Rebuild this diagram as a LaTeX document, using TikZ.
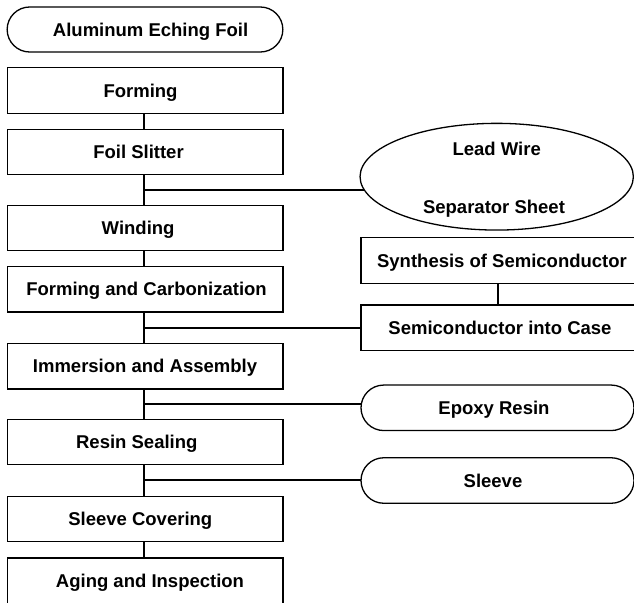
\documentclass[tikz,border=0pt]{standalone}
\usepackage{fontspec}
\setmainfont{Liberation Sans}
\usetikzlibrary{shapes.misc,shapes.geometric,backgrounds}
\begin{document}
\begin{tikzpicture}[x=1pt,y=-1pt,
  every node/.style={font=\fontsize{18.5}{22}\selectfont\bfseries,
    text height=13.2pt, text depth=0pt, inner sep=0pt},
  % tx shifts the text sideways inside its frame
  tx/.style={execute at begin node={\hspace*{#1}}},
  stage/.style={draw, fill=white, line width=1.3pt, rectangle,
    minimum width=275.7pt, minimum height=45.5pt},
  supply/.style={draw, fill=white, line width=1.3pt, rounded rectangle,
    minimum width=273pt, minimum height=45.5pt},
  material/.style={draw, fill=white, line width=1.3pt, ellipse,
    minimum width=273.3pt, minimum height=106.7pt},
  link/.style={line width=1.4pt}]
\useasboundingbox (0,0) rectangle (634,602);
\clip (0,0) rectangle (634,602);

% main process column
\node[supply, minimum width=275.7pt, minimum height=45pt, tx=11.2pt] (foil) at (145,29.5) {Aluminum Eching Foil};
\node[stage, tx=-9pt]  (form)  at (145,90.5)  {Forming};
\node[stage, tx=-13pt] (slit)  at (145,152)   {Foil Slitter};
\node[stage, tx=-13.8pt] (wind) at (145,228)  {Winding};
\node[stage, tx=3pt]   (carb)  at (145,289.2) {Forming and Carbonization};
\node[stage]           (imm)   at (145,366.2) {Immersion and Assembly};
\node[stage, tx=-16.4pt] (seal) at (145,442)  {Resin Sealing};
\node[stage, tx=-9.4pt] (cover) at (145,519)  {Sleeve Covering};
\node[stage, tx=10pt]  (aging) at (145,580.6) {Aging and Inspection};

% side inputs
\node[material] (lead) at (496.7,176.7) {};
\node at (496.7,148.7) {Lead Wire};
\node at (494,207.3) {Separator Sheet};
\node[stage, minimum width=276pt, tx=6pt] (synth) at (499,260.5) {Synthesis of Semiconductor};
\node[stage, minimum width=276pt, tx=2pt] (semi)  at (499,327.8) {Semiconductor into Case};
\node[supply, tx=-7pt] (epoxy)  at (497.5,407.8) {Epoxy Resin};
\node[supply, tx=-9pt] (sleeve) at (497.5,480.5) {Sleeve};

% junctions on the main line
\coordinate (j1) at (144,190);
\coordinate (j2) at (144,328);
\coordinate (j3) at (144,404);
\coordinate (j4) at (144,480);
\coordinate (sx) at (498,0);

\begin{scope}[on background layer]
  \draw[link] (form.south -| j1) -- (slit.north -| j1);
  \draw[link] (slit.south -| j1) -- (wind.north -| j1);
  \draw[link] (wind.south -| j1) -- (carb.north -| j1);
  \draw[link] (carb.south -| j1) -- (imm.north -| j1);
  \draw[link] (imm.south -| j1) -- (seal.north -| j1);
  \draw[link] (seal.south -| j1) -- (cover.north -| j1);
  \draw[link] (cover.south -| j1) -- (aging.north -| j1);
  \draw[link] (synth.south -| sx) -- (semi.north -| sx);
  \draw[link] (j1) -- (j1 -| lead.center);
  \draw[link] (j2) -- (j2 -| semi.west);
  \draw[link] (j3) -- (j3 -| epoxy.center);
  \draw[link] (j4) -- (j4 -| sleeve.center);
\end{scope}
\end{tikzpicture}
\end{document}
